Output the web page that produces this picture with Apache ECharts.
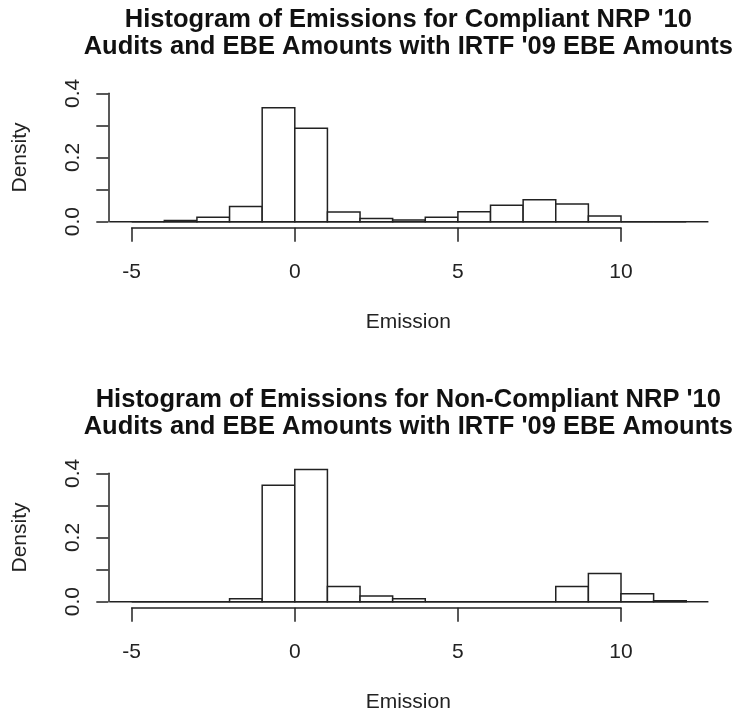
<!DOCTYPE html>
<html>
  <head>
    <title>Histograms of Emissions</title>
    <style>
      html, body {
        margin: 0;
        padding: 0;
        width: 100%;
        height: 100%;
        background: #fff;
      }
      #chart {
        width: 740px;
        height: 711px;
      }
    </style>
  </head>
  <body>
    <div id="chart"></div>
    <script src="https://cdn.jsdelivr.net/npm/echarts/dist/echarts.min.js"></script>
    <script type="text/javascript">

      // left edge of each bin (width 1)
      const binStarts = [-5, -4, -3, -2, -1, 0, 1, 2, 3, 4, 5, 6, 7, 8, 9, 10, 11];
      const binWidth = 1;

      // densities
      const compliantDensity = [0, 0.004, 0.014, 0.047, 0.355, 0.291, 0.030, 0.010, 0.005,
                                0.014, 0.031, 0.051, 0.068, 0.055, 0.018, 0, 0];
      const nonCompliantDensity = [0, 0, 0, 0.009, 0.363, 0.412, 0.047, 0.018, 0.009,
                                   0, 0, 0, 0, 0.047, 0.088, 0.025, 0.003];

      const panelTitles = [
        ["Histogram of Emissions for Compliant NRP '10", "Audits and EBE Amounts with IRTF '09 EBE Amounts"],
        ["Histogram of Emissions for Non-Compliant NRP '10", "Audits and EBE Amounts with IRTF '09 EBE Amounts"]
      ];
      const xTicks = [-5, 0, 5, 10];
      const yTicks = [0, 0.1, 0.2, 0.3, 0.4];

      const ink = '#222';
      const lw = 1.5;
      const fontFamily = '"Liberation Sans", Arial, sans-serif';
      const fs = 21;

      // R style x range: data range padded by 4%
      const xlo = binStarts[0];
      const xhi = binStarts[binStarts.length - 1] + binWidth;
      const pad = 0.04 * (xhi - xlo);
      const baselineRange = [xlo - pad, xhi + pad];

      const panelShift = 380;
      const plotLeft = 131.7, plotWidth = 489.3, plotTop = 93.3, plotHeight = 128.4;
      const yAxisX = 108.3;
      const plotCenterX = 408.3;

      const buildGrid = i => ({
        left: plotLeft,
        top: plotTop + i * panelShift,
        width: plotWidth,
        height: plotHeight,
        containLabel: false,
        outerBoundsMode: 'none'
      });

      const buildXAxis = i => ({
        type: 'value',
        gridIndex: i,
        min: xTicks[0],
        max: xTicks[xTicks.length - 1],
        interval: 5,
        offset: 6,
        axisLine: { show: true, onZero: false, lineStyle: { color: ink, width: lw } },
        axisTick: { show: true, length: 14, lineStyle: { color: ink, width: lw } },
        axisLabel: { color: ink, fontSize: fs, fontFamily, margin: 26 },
        splitLine: { show: false }
      });

      const buildYAxis = i => ({
        type: 'value',
        gridIndex: i,
        min: yTicks[0],
        max: yTicks[yTicks.length - 1],
        interval: 0.1,
        offset: plotLeft - yAxisX,
        name: 'Density',
        nameLocation: 'middle',
        nameRotate: 90,
        nameGap: 70,
        nameTextStyle: { color: ink, fontSize: fs, fontFamily },
        axisLine: { show: true, onZero: false, lineStyle: { color: ink, width: lw } },
        axisTick: { show: true, length: 12, lineStyle: { color: ink, width: lw } },
        axisLabel: {
          color: ink,
          fontSize: fs,
          fontFamily,
          rotate: 90,
          margin: 17,
          formatter: v => (Math.round(v * 10) % 2 === 0 ? v.toFixed(1) : '')
        },
        splitLine: { show: false }
      });

      const renderBin = (params, api) => {
        const x0 = api.value(0);
        const d = api.value(1);
        const p0 = api.coord([x0, d]);
        const p1 = api.coord([x0 + binWidth, 0]);
        return {
          type: 'rect',
          shape: { x: p0[0], y: p0[1], width: p1[0] - p0[0], height: p1[1] - p0[1] },
          style: { fill: '#fff', stroke: ink, lineWidth: lw }
        };
      };

      const renderBaseline = (params, api) => {
        const a = api.coord([api.value(0), 0]);
        const b = api.coord([api.value(1), 0]);
        return {
          type: 'line',
          shape: { x1: a[0], y1: a[1], x2: b[0], y2: b[1] },
          style: { stroke: ink, lineWidth: lw }
        };
      };

      const buildSeries = (i, dens) => ([
        {
          type: 'custom',
          xAxisIndex: i,
          yAxisIndex: i,
          clip: false,
          silent: true,
          data: [baselineRange],
          encode: { x: [0, 1] },
          renderItem: renderBaseline,
          z: 1
        },
        {
          type: 'custom',
          xAxisIndex: i,
          yAxisIndex: i,
          clip: false,
          data: binStarts.map((s, k) => [s, dens[k]]),
          encode: { x: 0, y: 1 },
          renderItem: renderBin,
          z: 2
        }
      ]);

      const textEl = (text, y, font, fill) => ({
        type: 'text',
        style: {
          text, x: plotCenterX, y,
          textAlign: 'center', textVerticalAlign: 'middle',
          font, fill
        }
      });

      const buildTexts = i => {
        const dy = i * panelShift;
        const titleFont = 'bold 25.5px ' + fontFamily;
        return [
          textEl(panelTitles[i][0], 20 + dy, titleFont, '#111'),
          textEl(panelTitles[i][1], 47 + dy, titleFont, '#111'),
          textEl('Emission', 322 + dy, fs + 'px ' + fontFamily, ink)
        ];
      };

      const chart = echarts.init(document.getElementById('chart'), null, { renderer: 'canvas' });
      chart.setOption({
        animation: false,
        backgroundColor: '#fff',
        grid: [buildGrid(0), buildGrid(1)],
        xAxis: [buildXAxis(0), buildXAxis(1)],
        yAxis: [buildYAxis(0), buildYAxis(1)],
        series: [...buildSeries(0, compliantDensity), ...buildSeries(1, nonCompliantDensity)],
        graphic: [...buildTexts(0), ...buildTexts(1)]
      });
    </script>
  </body>
</html>
